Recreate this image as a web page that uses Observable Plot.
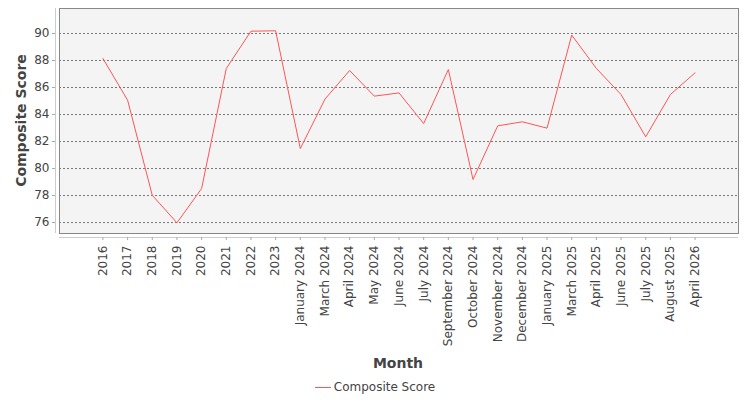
<!DOCTYPE html>
<html>
<head>
<meta charset="utf-8">
<script src="https://cdn.jsdelivr.net/npm/d3@7"></script>
<script src="https://cdn.jsdelivr.net/npm/@observablehq/plot@0.6"></script>
<style>
  body { margin: 0; background: #fff; font-family: "DejaVu Sans", sans-serif; }
  #chart { width: 750px; height: 400px; position: relative; }
  #legend { position: absolute; left: 0; top: 380px; width: 750px; text-align: center; font-size: 12px; color: #444; }
  #legend span.sw { display: inline-block; width: 16px; height: 0; border-top: 1px solid #ff5555; vertical-align: middle; margin-right: 3px; }
</style>
</head>
<body>
<div id="chart"></div>
<script>
const months = ["2016","2017","2018","2019","2020","2021","2022","2023","January 2024","March 2024","April 2024","May 2024","June 2024","July 2024","September 2024","October 2024","November 2024","December 2024","January 2025","March 2025","April 2025","June 2025","July 2025","August 2025","April 2026"];
const scores = [88.15,85.06,78.02,75.98,78.52,87.41,90.17,90.2,81.48,85.14,87.26,85.36,85.6,83.33,87.33,79.19,83.16,83.46,82.99,89.88,87.41,85.48,82.35,85.48,87.09];
const yTicks = [76,78,80,82,84,86,88,90];
const seriesName = "Composite Score";
const xTitle = "Month";
const yTitle = "Composite Score";

const data = months.map((m, i) => ({month: m, score: scores[i]}));
const yDomain = [75.19, 91.85];

const plot = Plot.plot({
  width: 750,
  height: 375,
  marginLeft: 59,
  marginRight: 12,
  marginTop: 8,
  marginBottom: 142,
  style: {fontFamily: "DejaVu Sans, sans-serif", fontSize: "11px", color: "#444", background: "#fff"},
  x: {type: "point", domain: months, padding: 1.76, round: false, label: null},
  y: {domain: yDomain, label: null},
  marks: [
    Plot.frame({fill: "#f4f4f4", stroke: "none"}),
    Plot.ruleY(yTicks, {stroke: "#777", strokeDasharray: "2,2", strokeWidth: 1}),
    Plot.frame({stroke: "#888", strokeWidth: 1}),
    Plot.ruleY([yDomain[0]], {dy: 4, stroke: "#ccc"}),
    Plot.axisY(yTicks, {tickSize: 0, tickPadding: 10, fill: "#444", fontSize: 12, label: null}),
    Plot.axisX({tickSize: 3, dy: 4, stroke: "#aaa", tickRotate: -90, tickPadding: 5, fill: "#444", fontSize: 12, label: null}),
    Plot.line(data, {x: "month", y: "score", stroke: "#ff5555", strokeWidth: 1})
  ]
});

const chart = document.getElementById("chart");
chart.appendChild(plot);

const svg = d3.select(plot);
// left axis line with small ticks
svg.append("line").attr("x1", 55.5).attr("x2", 55.5).attr("y1", 8).attr("y2", 233).attr("stroke", "#ccc");
const ys = plot.scale("y");
yTicks.forEach(t => {
  const yy = Math.round(ys.apply(t)) + 0.5;
  svg.append("line").attr("x1", 52).attr("x2", 55).attr("y1", yy).attr("y2", yy).attr("stroke", "#aaa");
});
svg.append("text")
  .attr("transform", "translate(22,120.5) rotate(-90)")
  .attr("text-anchor", "middle").attr("dominant-baseline", "middle")
  .attr("font-size", 14).attr("font-weight", "bold").attr("fill", "#444")
  .text(yTitle);
svg.append("text")
  .attr("x", 398).attr("y", 364)
  .attr("text-anchor", "middle").attr("dominant-baseline", "middle")
  .attr("font-size", 14).attr("font-weight", "bold").attr("fill", "#444")
  .text(xTitle);

const legend = document.createElement("div");
legend.id = "legend";
legend.innerHTML = '<span class="sw"></span>' + seriesName;
chart.appendChild(legend);
</script>
</body>
</html>
